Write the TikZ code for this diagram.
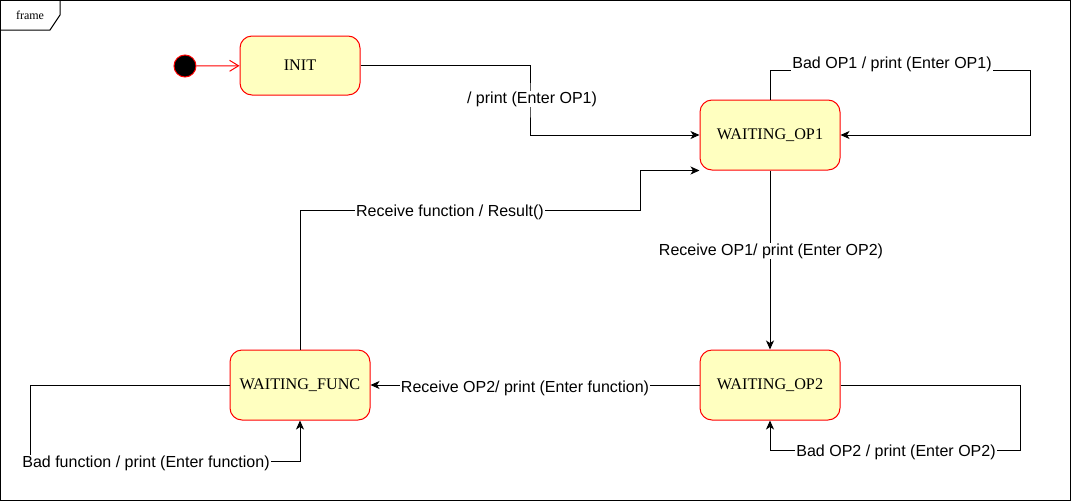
\documentclass[tikz,border=0pt]{standalone}
\usepackage{fontspec}
\setmainfont{Liberation Serif}
\setsansfont{Liberation Sans}
\usetikzlibrary{arrows.meta}
\definecolor{statefill}{HTML}{FFFFC0}
\definecolor{statered}{HTML}{FF0000}
\tikzset{
  statebox/.style={draw=statered, fill=statefill, line width=1pt, rounded corners=12pt,
    minimum width=140pt, minimum height=70pt, inner sep=0pt,
    font=\fontsize{16.2}{19}\selectfont},
  conn/.style={draw=black, line width=1pt, -{Stealth[length=9pt,width=8pt,inset=2.5pt]}},
  lbl/.style={fill=white, inner sep=1pt, font=\sffamily\fontsize{16}{19}\selectfont},
}
\begin{document}
\begin{tikzpicture}[x=1pt,y=-1pt]
\useasboundingbox (0,0) rectangle (1071,501);
% frame
\draw[line width=1pt] (0.5,0.5) rectangle (1070.5,500.5);
\draw[line width=1pt] (0.5,30) -- (50,30) -- (60,15) -- (60,0.5);
\node[font=\fontsize{12}{14}\selectfont] (frametag) at (30,15.5) {frame};
% states
\node[draw=statered, fill=black, circle, line width=1pt, minimum size=22pt, inner sep=0pt] (start) at (185,66) {};
\node[statebox, minimum width=120pt, minimum height=59pt] (init) at (300,65.5) {INIT};
\node[statebox] (op1) at (770,135) {WAITING\_OP1};
\node[statebox] (op2) at (770,385) {WAITING\_OP2};
\node[statebox] (func) at (300,385) {WAITING\_FUNC};
% connectors
\draw[line width=1pt, draw=statered, -{Straight Barb[length=9pt,width=11pt,line width=1pt]}] (start) -- (init);
\draw[conn] (init.east) -| (530,100) |- (op1.west);
\draw[conn] (op1.north) |- (1030,70) |- (op1.east);
\draw[conn] (op1.south) -- (op2.north);
\draw[conn] (op2.west) -- (func.east);
\draw[conn] (op2.east) -| (1020,450) -| (op2.south);
\draw[conn] (func.west) -| (30,461) -| (func.south);
\draw[conn] (func.north) |- (640,210) |- (op1.south west);
% labels
\node[lbl] (l1) at (532,99) {/ print (Enter OP1)};
\node[lbl] (l2) at (892,64) {Bad OP1 / print (Enter OP1)};
\node[lbl] (l3) at (771,251) {Receive OP1/ print (Enter OP2)};
\node[lbl] (l4) at (525,388) {Receive OP2/ print (Enter function)};
\node[lbl] (l5) at (896,452) {Bad OP2 / print (Enter OP2)};
\node[lbl] (l6) at (146,463) {Bad function / print (Enter function)};
\node[lbl] (l7) at (450,212) {Receive function / Result()};
\end{tikzpicture}
\end{document}
